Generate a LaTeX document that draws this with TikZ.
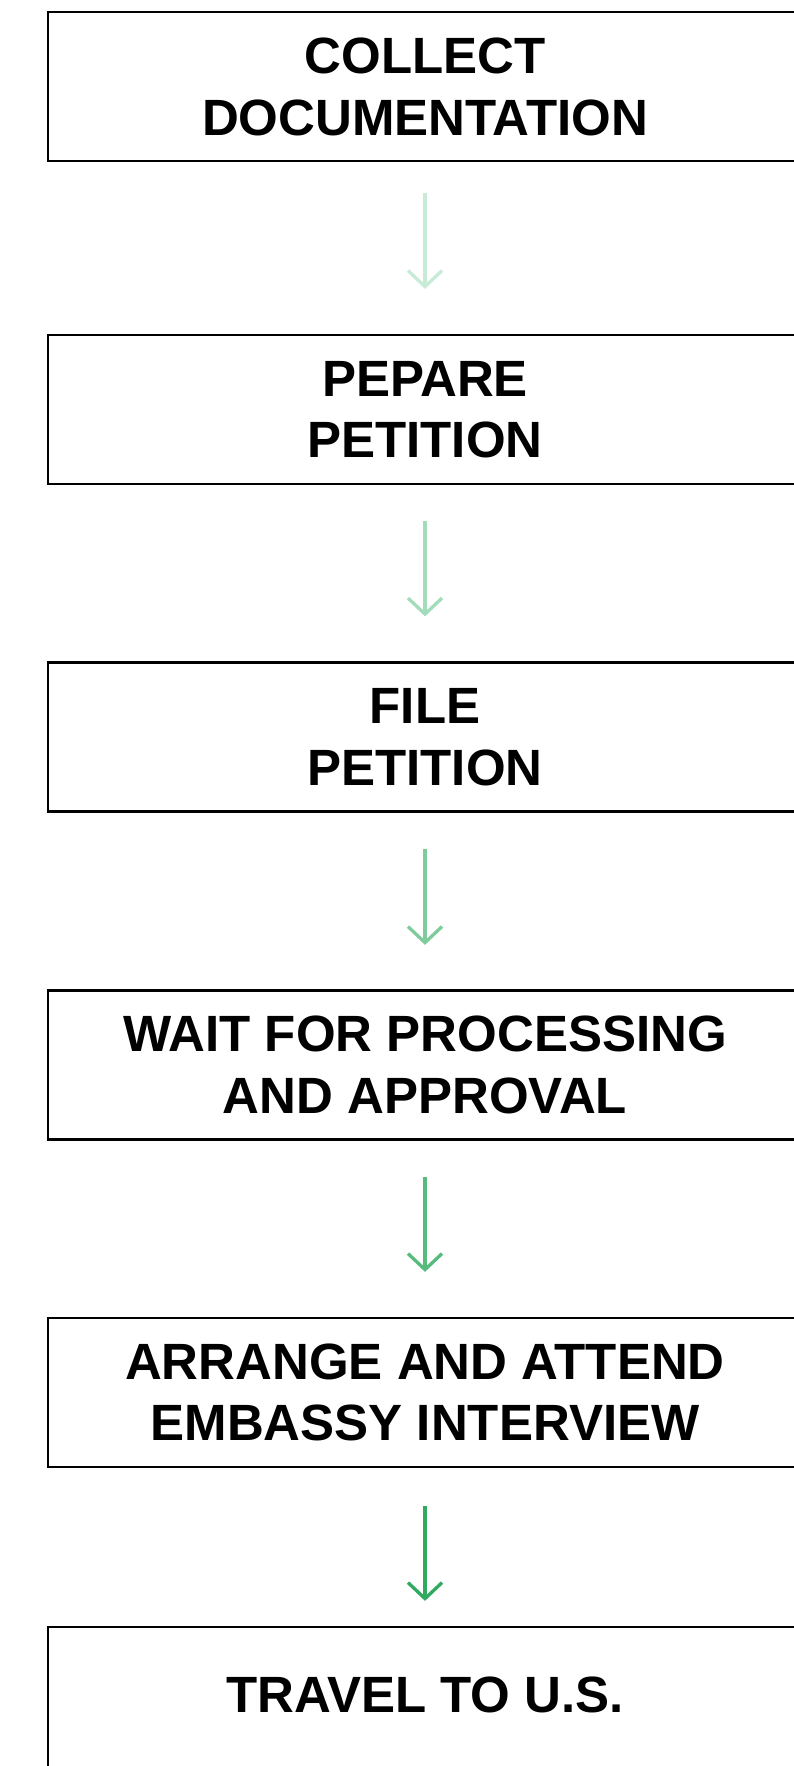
\documentclass[tikz,border=0pt]{standalone}
\usepackage{fontspec}
\setmainfont{Liberation Sans}
\usetikzlibrary{arrows.meta}

\definecolor{flowA}{HTML}{C8EBD7}
\definecolor{flowB}{HTML}{A3DCBA}
\definecolor{flowC}{HTML}{7ECC9C}
\definecolor{flowD}{HTML}{57BB7E}
\definecolor{flowE}{HTML}{2FAB60}

\tikzset{
  stepbox/.style={draw=black, line width=2.3pt, fill=white,
    minimum width=754.6pt, minimum height=149pt, inner sep=0pt,
    align=center, font=\bfseries\fontsize{51pt}{61.5pt}\selectfont},
  flow/.style={line width=3.3pt,
    -{Straight Barb[length=16pt,width=34pt,line width=3.3pt]}},
}

\begin{document}
\begin{tikzpicture}[x=1pt,y=-1pt]
  \useasboundingbox (0,0) rectangle (794,1766);
  \clip (0,0) rectangle (794,1766);
  \fill[white] (0,0) rectangle (794,1766);

  % process steps
  \node[stepbox] (b1) at (425,86.8)   {COLLECT\\DOCUMENTATION};
  \node[stepbox] (b2) at (425,409.5)  {PEPARE\\PETITION};
  \node[stepbox] (b3) at (425,737)    {FILE\\PETITION};
  \node[stepbox] (b4) at (425,1065)   {WAIT FOR PROCESSING\\AND APPROVAL};
  \node[stepbox] (b5) at (425,1392.5) {ARRANGE AND ATTEND\\EMBASSY INTERVIEW};
  \node[stepbox, text depth=14pt] (b6) at (425,1701.5) {TRAVEL TO U.S.};

  % connectors, darkening step by step
  \draw[flow, draw=flowA, shorten <=31pt, shorten >=45pt] (b1.south) -- (b2.north);
  \draw[flow, draw=flowB, shorten <=36pt, shorten >=45pt] (b2.south) -- (b3.north);
  \draw[flow, draw=flowC, shorten <=36.5pt, shorten >=44.5pt] (b3.south) -- (b4.north);
  \draw[flow, draw=flowD, shorten <=36.5pt, shorten >=45pt] (b4.south) -- (b5.north);
  \draw[flow, draw=flowE, shorten <=38pt, shorten >=25pt] (b5.south) -- (b6.north);
\end{tikzpicture}
\end{document}
